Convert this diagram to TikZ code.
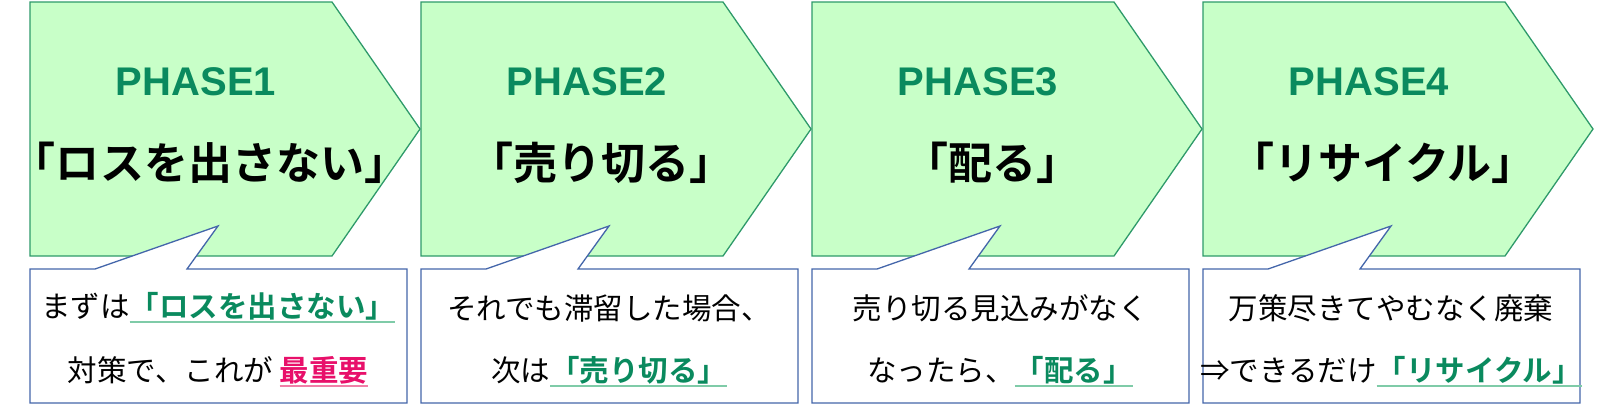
\documentclass[tikz,border=0pt]{standalone}
\usepackage{fontspec}
\setmainfont{Noto Sans CJK JP}
\newfontfamily\cjkb{Noto Sans CJK JP Bold}
\newfontfamily\latb{Liberation Sans Bold}
\definecolor{arrfill}{HTML}{C8FFC8}
\definecolor{arrline}{HTML}{2E9A6A}
\definecolor{gtext}{HTML}{0A8A5E}
\definecolor{gline}{HTML}{7FCBA8}
\definecolor{boxline}{HTML}{4466AA}
\definecolor{pinkt}{HTML}{E8106A}
\definecolor{pinkl}{HTML}{F080A8}
\newcommand\myul[2]{\setbox0\hbox{#2}\rlap{\color{#1}\rule[-0.18em]{\wd0}{0.07em}}\box0}
\newcommand\grn[1]{\myul{gline}{\textcolor{gtext}{\cjkb #1}}}
\newcommand\pnk[1]{\myul{pinkl}{\textcolor{pinkt}{\cjkb #1}}}
\begin{document}
\begin{tikzpicture}[x=1pt,y=-1pt,
  arr/.style={fill=arrfill,draw=arrline,line width=1.3pt},
  call/.style={fill=white,draw=boxline,line width=1.3pt,line join=miter},
  ph/.style={text=gtext,font=\latb\fontsize{40}{44}\selectfont},
  ttl/.style={font=\cjkb\fontsize{44}{48}\selectfont},
  btx/.style={font=\fontsize{29.5}{32}\selectfont,inner sep=0pt}]
\useasboundingbox (0,0) rectangle (1605,416);
\foreach \i/\ph/\tt/\la/\lb in {
 0/PHASE1/「ロスを出さない」/{まずは\grn{「ロスを出さない」}}/{対策で、これが\ \pnk{最重要}},
 1/PHASE2/「売り切る」/{それでも滞留した場合、}/{次は\grn{「売り切る」}},
 2/PHASE3/「配る」/{売り切る見込みがなく}/{なったら、\grn{「配る」}},
 3/PHASE4/「リサイクル」/{万策尽きてやむなく廃棄}/{⇒できるだけ\grn{「リサイクル」}}}{
 \pgfmathsetmacro\L{30+391*\i}
 \draw[arr] (\L,2) -- (\L+302,2) -- (\L+390,129) -- (\L+302,256) -- (\L,256) -- cycle;
 \draw[call] (\L,269) -- (\L+65,269) -- (\L+188,226) -- (\L+157,269) -- (\L+377,269) -- (\L+377,403) -- (\L,403) -- cycle;
 \node[ph] (p\i) at (\L+166,82) {\ph};
 \node[ttl] (t\i) at (\L+180,163) {\tt};
 \node[btx] (a\i) at (\L+188,308) {\la};
 \node[btx] (b\i) at (\L+188,372) {\lb};
}
\end{tikzpicture}
\end{document}
